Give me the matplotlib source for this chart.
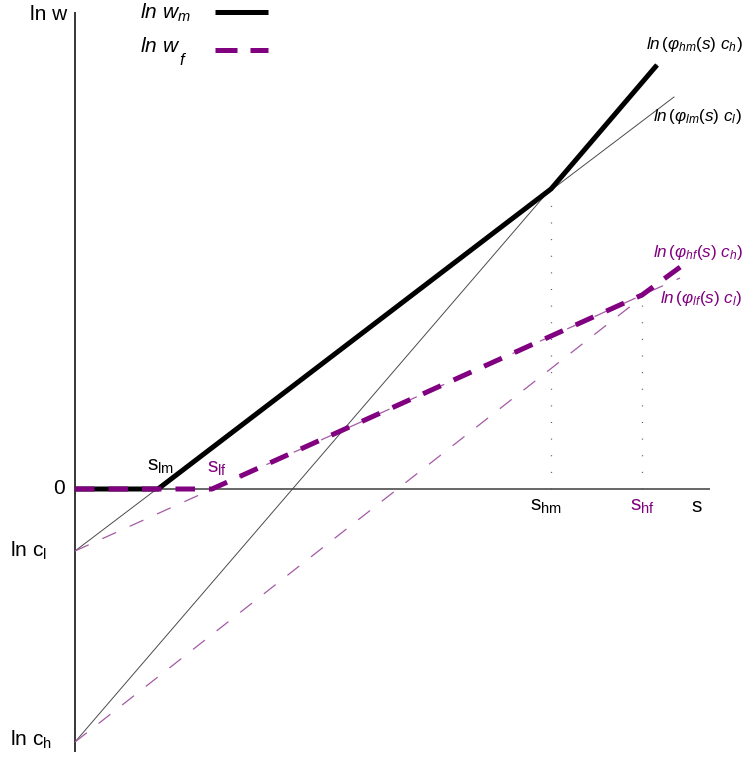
import matplotlib
matplotlib.use('Agg')
import matplotlib.pyplot as plt

plt.rcParams['mathtext.fontset'] = 'custom'
plt.rcParams['mathtext.rm'] = 'Liberation Sans'
plt.rcParams['mathtext.it'] = 'Liberation Sans:italic'
plt.rcParams['mathtext.bf'] = 'Liberation Sans:bold'
plt.rcParams['font.family'] = ['Liberation Sans', 'DejaVu Sans']

# ---- data (abstract diagram units: s on x, ln w on y) ----
ln_cl = -62
ln_ch = -253
s_lm, s_lf, s_hm, s_hf = 83, 137, 476, 567
s_axis_end = 635
lnw_axis_top = 477

wm_x = [0, s_lm, s_hm, 582]
wm_y = [0, 0, 300, 424]
wf_x = [0, s_lf, s_hf, 608]
wf_y = [0, 0, 194, 224]

lm_x = [0, 599]
lm_y = [ln_cl, 392]
hm_x = [0, 582]
hm_y = [ln_ch, 424]
lf_x = [0, 605]
lf_y = [ln_cl, 211]
hf_x = [0, 608]
hf_y = [ln_ch, 224]

PURPLE = '#800080'
LPURPLE = '#a45aa4'

fig = plt.figure(figsize=(7.47, 7.59), dpi=100)
ax = fig.add_axes([0, 0, 1, 1])
ax.set_xlim(-75, 672)
ax.set_ylim(-270, 489)
ax.axis('off')

# axes
ax.plot([0, 0], [lnw_axis_top, -263], color='black', lw=1.1, solid_capstyle='butt')
ax.plot([0, s_axis_end], [0, 0], color='#5a5a5a', lw=1.3, solid_capstyle='butt')

# thin lines
ax.plot(lm_x, lm_y, color='#4a4a4a', lw=0.7)
ax.plot(hm_x, hm_y, color='#4a4a4a', lw=0.7)
ax.plot(lf_x, lf_y, color=LPURPLE, lw=0.9, linestyle=(0, (12, 12)))
ax.plot(hf_x, hf_y, color=LPURPLE, lw=0.9, linestyle=(0, (12, 12)))

# dotted verticals
ax.plot([s_hm, s_hm], [0, wm_y[2]], color='#555555', lw=0.9, linestyle=(0, (0.8, 12.5)))
ax.plot([s_hf, s_hf], [0, wf_y[2]], color='#555555', lw=0.9, linestyle=(0, (0.8, 12.5)))

# thick wage lines
ax.plot(wm_x, wm_y, color='black', lw=3.6, solid_capstyle='butt', solid_joinstyle='miter')
ax.plot(wf_x, wf_y, color=PURPLE, lw=3.6, linestyle=(0, (3.9, 2.8)), dash_capstyle='butt')

# legend
ax.plot([140, 193], [477, 477], color='black', lw=3.6, solid_capstyle='butt')
ax.plot([140, 193], [439, 439], color=PURPLE, lw=3.6, linestyle=(0, (4.4, 2.6)), dash_capstyle='butt')
ax.text(65, 476, r'$ln\ w_m$', fontsize=15, ha='left', va='center')
ax.text(65, 442, r'$ln\ w$', fontsize=15, ha='left', va='center')
ax.text(104, 429, r'$f$', fontsize=12, ha='left', va='center')

# axis labels
ax.text(-8, 474, 'ln w', fontsize=15, ha='right', va='center')
ax.text(-10, 0, '0', fontsize=15, ha='right', va='center')
ax.text(-65, ln_cl, r'$\mathrm{ln\ c_l}$', fontsize=15, ha='left', va='center')
ax.text(-65, ln_ch + 2, r'$\mathrm{ln\ c_h}$', fontsize=15, ha='left', va='center')
ax.text(616, -18, 's', fontsize=15, ha='left', va='center')

ax.text(72, 22, r'$\mathrm{s_{lm}}$', fontsize=15, ha='left', va='center')
ax.text(132, 20, r'$\mathrm{s_{lf}}$', fontsize=15, ha='left', va='center', color=PURPLE)
ax.text(455, -17, r'$\mathrm{s_{hm}}$', fontsize=15, ha='left', va='center')
ax.text(555, -17, r'$\mathrm{s_{hf}}$', fontsize=15, ha='left', va='center', color=PURPLE)

# line labels
ax.text(571, 444, r'$ln\,(\varphi_{hm}(s)\ c_h)$', fontsize=12.3, ha='left', va='center')
ax.text(578, 372, r'$ln\,(\varphi_{lm}(s)\ c_l)$', fontsize=12.3, ha='left', va='center')
ax.text(578, 237, r'$ln\,(\varphi_{hf}(s)\ c_h)$', fontsize=12.3, ha='left', va='center', color=PURPLE)
ax.text(585, 191, r'$ln\,(\varphi_{lf}(s)\ c_l)$', fontsize=12.3, ha='left', va='center', color=PURPLE)

fig.savefig('out.png', dpi=100)
